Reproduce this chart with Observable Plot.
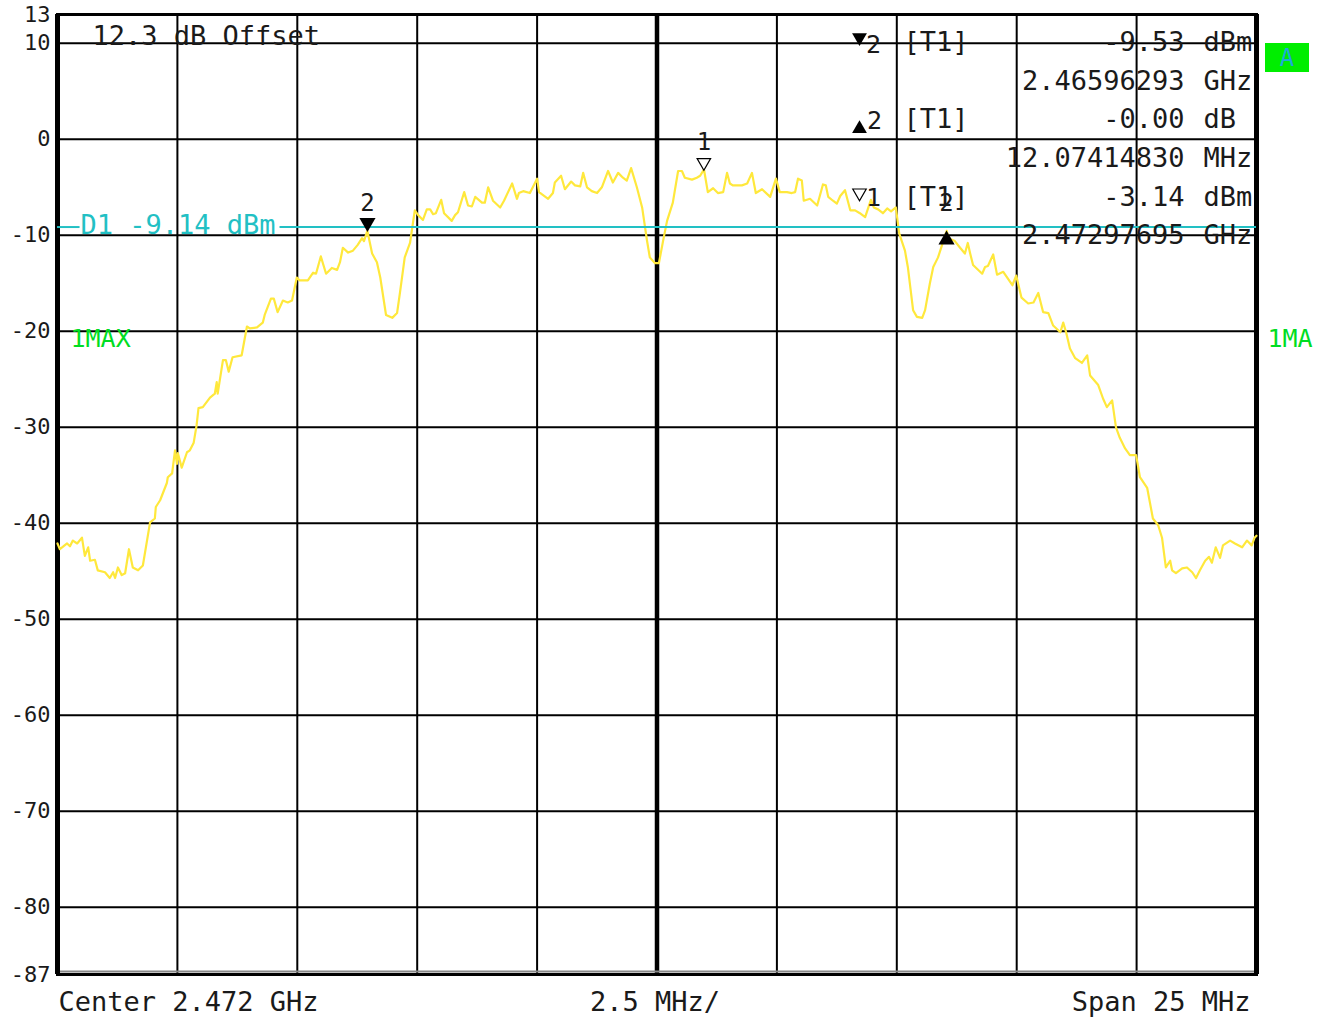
<!DOCTYPE html>
<html>
<head>
<meta charset="utf-8">
<script src="https://cdn.jsdelivr.net/npm/d3@7"></script>
<script src="https://cdn.jsdelivr.net/npm/@observablehq/plot@0.6"></script>
<style>
  body { margin: 0; background: #fff; }
  #chart svg { display: block; }
</style>
</head>
<body>
<div id="chart"></div>
<script>
// Spectrum analyzer sweep: center 2.472 GHz, span 25 MHz, 2.5 MHz per division.
const centerGHz = 2.472;
const spanMHz = 25;
const divMHz = 2.5;
const refOffsetDb = 12.3;
const displayLine = -9.14; // D1 display line, dBm

// Trace 1 (max hold): frequency offset from center (MHz) and level (dBm)
const freq = [
  -12.50,-12.45,-12.30,-12.24,-12.18,-12.09,-11.99,-11.93,-11.86,-11.82,
  -11.72,-11.66,-11.51,-11.41,-11.34,-11.30,-11.24,-11.16,-11.09,-11.01,
  -10.93,-10.82,-10.72,-10.57,-10.47,-10.45,-10.36,-10.22,-10.20,-10.11,
  -10.05,-10.01,-9.99,-9.91,-9.80,-9.74,-9.66,-9.60,-9.56,-9.47,
  -9.32,-9.22,-9.18,-9.16,-9.05,-8.99,-8.93,-8.85,-8.66,-8.55,
  -8.49,-8.34,-8.22,-8.18,-8.05,-7.99,-7.91,-7.80,-7.70,-7.61,
  -7.51,-7.45,-7.28,-7.17,-7.11,-7.01,-6.90,-6.78,-6.67,-6.61,
  -6.55,-6.44,-6.34,-6.24,-6.15,-6.11,-6.04,-5.94,-5.84,-5.77,
  -5.65,-5.52,-5.42,-5.36,-5.26,-5.15,-5.05,-4.98,-4.88,-4.80,
  -4.73,-4.67,-4.61,-4.50,-4.44,-4.28,-4.21,-4.15,-4.02,-3.94,
  -3.86,-3.79,-3.65,-3.59,-3.52,-3.42,-3.27,-3.19,-3.02,-2.92,
  -2.88,-2.79,-2.65,-2.50,-2.46,-2.27,-2.17,-2.13,-2.00,-1.92,
  -1.79,-1.71,-1.60,-1.54,-1.46,-1.36,-1.25,-1.15,-1.02,-0.92,
  -0.81,-0.71,-0.63,-0.54,-0.42,-0.31,-0.21,-0.15,-0.04,0.04,
  0.13,0.21,0.33,0.44,0.52,0.58,0.73,0.83,0.90,0.98,
  1.06,1.17,1.27,1.38,1.46,1.52,1.58,1.77,1.88,1.98,
  2.06,2.19,2.36,2.48,2.56,2.71,2.81,2.88,2.94,3.02,
  3.06,3.19,3.34,3.46,3.52,3.57,3.67,3.75,3.82,3.92,
  4.03,4.13,4.23,4.34,4.46,4.52,4.61,4.71,4.80,4.88,
  4.98,5.05,5.17,5.23,5.34,5.42,5.53,5.59,5.69,5.76,
  5.86,6.04,6.08,6.21,6.32,6.42,6.48,6.53,6.59,6.78,
  6.84,6.90,7.01,7.09,7.22,7.41,7.49,7.60,7.74,7.85,
  7.95,8.05,8.16,8.26,8.41,8.47,8.53,8.61,8.72,8.86,
  8.97,9.03,9.20,9.30,9.38,9.49,9.57,9.65,9.76,9.86,
  9.99,10.07,10.22,10.34,10.45,10.53,10.61,10.70,10.74,10.82,
  10.95,11.05,11.16,11.24,11.32,11.43,11.51,11.57,11.65,11.74,
  11.80,11.95,12.05,12.20,12.30,12.40,12.46,12.50
];
const level = [
  -42.1,-42.7,-42.1,-42.4,-41.8,-42.1,-41.5,-43.4,-42.5,-43.9,
  -43.8,-44.9,-45.1,-45.7,-45.1,-45.7,-44.6,-45.4,-45.2,-42.7,
  -44.6,-44.9,-44.4,-39.9,-39.5,-38.3,-37.6,-35.8,-35.2,-34.8,
  -32.4,-33.8,-32.7,-34.2,-32.6,-32.4,-31.6,-29.8,-28.0,-27.9,
  -26.9,-26.5,-25.3,-26.5,-23.0,-23.0,-24.2,-22.7,-22.5,-19.5,
  -19.7,-19.6,-19.1,-18.3,-16.6,-16.6,-18.0,-16.8,-17.0,-16.8,
  -14.4,-14.7,-14.7,-13.9,-14.0,-12.2,-14.0,-13.4,-13.6,-12.8,
  -11.3,-11.8,-11.6,-11.0,-10.3,-10.6,-9.53,-11.9,-12.8,-14.4,
  -18.3,-18.6,-18.1,-16.0,-12.3,-10.8,-7.4,-7.9,-8.4,-7.3,
  -7.3,-7.8,-7.7,-6.3,-7.7,-8.5,-7.9,-7.6,-5.5,-6.9,
  -7.0,-6.0,-6.6,-6.6,-5.0,-6.4,-7.1,-6.4,-4.6,-6.2,
  -5.6,-5.4,-5.6,-4.1,-5.5,-6.2,-5.6,-4.5,-3.8,-5.2,
  -4.4,-4.8,-4.9,-3.5,-5.0,-5.4,-5.6,-5.0,-3.3,-4.5,
  -3.5,-4.0,-4.3,-3.0,-5.0,-7.1,-10.5,-12.3,-12.9,-12.9,
  -10.5,-8.5,-6.6,-3.3,-3.3,-4.0,-4.2,-4.0,-3.8,-3.14,
  -5.5,-5.1,-5.6,-5.5,-3.5,-4.6,-4.8,-4.8,-4.6,-3.5,
  -5.6,-5.2,-6.0,-4.1,-5.5,-5.5,-5.6,-5.5,-4.1,-4.3,
  -6.4,-6.2,-6.9,-4.7,-4.8,-6.0,-6.4,-6.7,-5.9,-5.3,
  -7.4,-7.4,-7.7,-8.1,-6.3,-7.1,-7.3,-7.7,-7.2,-7.5,
  -7.1,-9.8,-11.6,-13.3,-17.8,-18.5,-18.6,-17.8,-15.0,-13.3,
  -12.3,-9.53,-10.3,-10.6,-11.3,-11.9,-10.8,-11.9,-13.1,-14.0,
  -13.3,-13.2,-12.0,-14.1,-13.8,-15.2,-14.2,-16.5,-17.1,-17.0,
  -16.0,-18.0,-18.1,-19.4,-20.1,-19.1,-20.1,-21.8,-22.8,-23.3,
  -22.5,-24.6,-25.6,-27.0,-27.9,-27.2,-30.0,-31.1,-32.2,-32.9,
  -32.9,-35.2,-36.3,-39.5,-40.2,-41.5,-44.6,-43.9,-44.9,-45.2,
  -44.7,-44.6,-45.1,-45.7,-44.9,-43.9,-43.5,-44.1,-42.5,-43.6,
  -42.3,-41.8,-42.1,-42.5,-41.8,-42.3,-41.5,-41.3
];

// Marker readout
const marker2GHz = 2.46596293, marker2Level = -9.53;
const delta2MHz = 12.07414830, delta2Db = -0.00;
const marker1GHz = 2.47297695, marker1Level = -3.14;

// Y axis tick labels (dBm) and grid
const yTicks = [13, 10, 0, -10, -20, -30, -40, -50, -60, -70, -80, -87];
const yGrid = [10, 0, -10, -20, -30, -40, -50, -60, -70, -80];
const xGrid = d3.range(-spanMHz / 2 + divMHz, spanMHz / 2, divMHz).filter(d => Math.abs(d) > 1e-9);

const trace = freq.map((f, i) => ({f, v: level[i]}));
const toOffset = ghz => (ghz - centerGHz) * 1000;
const m2 = toOffset(marker2GHz);
const markers = [
  {f: m2, v: marker2Level, kind: "down", label: "2"},
  {f: m2 + delta2MHz, v: marker2Level + delta2Db, kind: "up", label: "2"},
  {f: toOffset(marker1GHz), v: marker1Level, kind: "open", label: "1"}
];

// Display line is broken where its label sits
const d1Segments = [
  {x1: -spanMHz / 2, x2: -12.03, y: displayLine},
  {x1: -7.86, x2: spanMHz / 2, y: displayLine}
];

const fmtDb = v => (v === 0 || Object.is(v, -0) ? "-0.00" : v.toFixed(2));
const infoRows = [
  {value: fmtDb(marker2Level), unit: "dBm"},
  {value: marker2GHz.toFixed(8), unit: "GHz"},
  {value: fmtDb(delta2Db), unit: "dB"},
  {value: delta2MHz.toFixed(8), unit: "MHz"},
  {value: marker1Level.toFixed(2), unit: "dBm"},
  {value: marker1GHz.toFixed(8), unit: "GHz"}
];
const infoHead = [
  {row: 0, sym: "down", num: "2"},
  {row: 2, sym: "up", num: "2"},
  {row: 4, sym: "open", num: "1"}
];

const ink = "#1a1a1a";
const mono = "DejaVu Sans Mono";
const rowDy = r => 28 + r * 38.6;

// text placed relative to the plot frame, vertically centred on its anchor
const note = (str, anchor, dx, dy, opts = {}) =>
  Plot.text([str], {frameAnchor: anchor, lineAnchor: "middle", dx, dy, textAnchor: "start", fontSize: 27, fill: ink, ...opts});

const infoMarks = [];
infoRows.forEach((r, i) => {
  infoMarks.push(note(r.value, "top-left", 1127, rowDy(i), {textAnchor: "end"}));
  infoMarks.push(note(r.unit, "top-left", 1146, rowDy(i)));
});
infoHead.forEach(h => {
  const dy = rowDy(h.row);
  infoMarks.push(note("[T1]", "top-left", 846, dy));
  if (h.sym === "down") {
    infoMarks.push(Plot.dot([0], {frameAnchor: "top-left", dx: 802, dy: dy - 5, symbol: "triangle", rotate: 180, r: 5.5, fill: "#000", stroke: "none"}));
    infoMarks.push(note(h.num, "top-left", 816, dy + 2, {textAnchor: "middle", fontSize: 25}));
  } else if (h.sym === "up") {
    infoMarks.push(Plot.dot([0], {frameAnchor: "top-left", dx: 802, dy: dy + 9, symbol: "triangle", r: 5.5, fill: "#000", stroke: "none"}));
    infoMarks.push(note(h.num, "top-left", 817, dy + 1, {textAnchor: "middle", fontSize: 25}));
  } else {
    infoMarks.push(Plot.dot([0], {frameAnchor: "top-left", dx: 802, dy: dy - 4, symbol: "triangle", rotate: 180, r: 5, fill: "#fff", stroke: "#000", strokeWidth: 1.2}));
    infoMarks.push(note(h.num, "top-left", 816, dy + 1, {textAnchor: "middle", fontSize: 25}));
  }
});

const chart = Plot.plot({
  width: 1329,
  height: 1021,
  marginLeft: 57,
  marginRight: 73,
  marginTop: 14,
  marginBottom: 47,
  style: {fontFamily: mono, background: "#fff", color: ink},
  x: {domain: [-spanMHz / 2, spanMHz / 2], axis: null},
  y: {domain: [-87, 13], axis: null},
  marks: [
    // graticule
    Plot.ruleY(yGrid, {stroke: "#000", strokeWidth: 2}),
    Plot.ruleX(xGrid, {stroke: "#000", strokeWidth: 2}),
    Plot.ruleX([0], {stroke: "#000", strokeWidth: 4.5}),
    Plot.ruleY([-87], {stroke: "#888", strokeWidth: 2, dy: -3}),
    Plot.frame({stroke: "#000", strokeWidth: 3}),
    Plot.ruleX([-spanMHz / 2, spanMHz / 2], {stroke: "#000", strokeWidth: 5}),
    Plot.axisY(yTicks, {tickSize: 0, tickPadding: 7, fontSize: 22, fill: ink, tickFormat: d => String(d), label: null}),

    // reference offset note
    note(`${refOffsetDb} dB Offset`, "top-left", 35, 22),

    // trace
    Plot.line(trace, {x: "f", y: "v", stroke: "#ffe83c", strokeWidth: 2.2}),

    // display line D1
    Plot.ruleY(d1Segments, {y: "y", x1: "x1", x2: "x2", stroke: "#22c0c4", strokeWidth: 2}),
    Plot.text([displayLine], {x: -spanMHz / 2, y: d => d, text: d => `D1 ${d} dBm`, textAnchor: "start", dx: 23, dy: -2, fontSize: 27, fill: "#22c0c4"}),

    // markers on the trace
    Plot.dot(markers.filter(m => m.kind === "down"), {x: "f", y: "v", symbol: "triangle", rotate: 180, r: 6, dy: -8, fill: "#000", stroke: "none"}),
    Plot.dot(markers.filter(m => m.kind === "up"), {x: "f", y: "v", symbol: "triangle", r: 6, dy: 9, fill: "#000", stroke: "none"}),
    Plot.dot(markers.filter(m => m.kind === "open"), {x: "f", y: "v", symbol: "triangle", rotate: 180, r: 5, dy: -7, fill: "#fff", stroke: "#000", strokeWidth: 1.2}),
    Plot.text(markers, {x: "f", y: "v", text: "label", dy: -27, fontSize: 24, fill: ink}),

    // trace labels
    note("1MAX", "top-left", 13, 324, {fontSize: 25, fill: "#00dd22"}),
    note("1MA", "top-right", 11, 324, {fontSize: 25, fill: "#00dd22"}),

    // marker readout
    ...infoMarks,

    // sweep settings
    note(`Center ${centerGHz} GHz`, "bottom-left", 1, 28),
    note(`${divMHz} MHz/`, "bottom", -2, 28, {textAnchor: "middle"}),
    note(`Span ${spanMHz} MHz`, "bottom-right", -6, 28, {textAnchor: "end"})
  ]
});

// trace "A" status badge to the right of the screen
const svg = d3.select(chart);
const badge = svg.append("g");
badge.append("rect").attr("x", 1265).attr("y", 43).attr("width", 44).attr("height", 29).attr("fill", "#00ee00");
badge.append("text").attr("x", 1287).attr("y", 58).attr("text-anchor", "middle").attr("dominant-baseline", "central")
  .attr("font-family", mono).attr("font-size", 24).attr("fill", "#1fa8d8").text("A");

document.getElementById("chart").append(chart);
</script>
</body>
</html>
